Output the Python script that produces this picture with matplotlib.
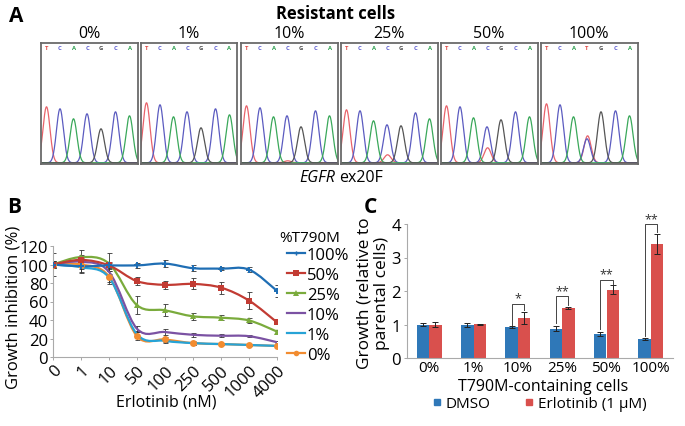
import numpy as np
import matplotlib
matplotlib.use("Agg")
import matplotlib.pyplot as plt
from matplotlib.path import Path
from matplotlib.patches import PathPatch
from matplotlib.lines import Line2D

plt.rcParams['font.family'] = ['Open Sans', 'DejaVu Sans']

W, H = 685, 427

# ---------------- data ----------------
# panel A: sanger traces (peak heights in box pixels)
mix_levels = ['0%', '1%', '10%', '25%', '50%', '100%']
base_calls = ['TCACGCA', 'TCACGCA', 'TCACGCA', 'TCACGCA', 'TCACGCA', 'TCATGCA']
ref_bases = 'TCACGCA'
peak_heights = [
    [56, 54, 44, 49, 34, 51, 47],
    [60, 58, 46, 51, 35, 54, 48],
    [57, 55, 46, 47, 36, 52, 47],
    [53, 52, 42, 38, 37, 50, 44],
    [57, 56, 45, 36, 43, 51, 46],
    [59, 58, 46, 24, 51, 52, 47],
]
t790m_peak = [0, 0, 2, 8, 15, 27]   # mutant T signal at position 4

# panel B: dose response
doses = ['0', '1', '10', '50', '100', '250', '500', '1000', '4000']
b_series = ['100%', '50%', '25%', '10%', '1%', '0%']
inhib_100 = [100, 98, 99, 99, 101, 96, 95.5, 94.5, 71.5]
inhib_50 = [100, 105, 99, 82, 78, 79, 75, 61, 37.5]
inhib_25 = [100, 108, 101, 56, 50.5, 44, 42.5, 39.5, 27.5]
inhib_10 = [100, 103, 92, 30.5, 27, 24, 23, 22.5, 16]
inhib_1 = [100, 97, 86, 24.5, 17.5, 15, 14, 13, 12]
inhib_0 = [100, 100, 87, 22.5, 19, 15, 14, 13, 12]
err_100 = [12, 6, 3, 3, 4, 3, 1.5, 3, 6.5]
err_50 = [3, 5, 4, 4, 4, 6, 6.5, 9, 2]
err_25 = [4, 8, 11, 9.5, 6.5, 3.5, 3, 2.5, 2]
err_10 = [3, 4, 5, 3, 3, 2, 1.5, 1, 1]
err_1 = [4, 6, 7, 4, 2, 1.5, 1, 1, 1]
err_0 = [4, 5, 6, 4, 3, 2, 1.5, 1, 1]

# panel C: growth relative to parental
c_groups = ['0%', '1%', '10%', '25%', '50%', '100%']
dmso = [1.0, 0.98, 0.93, 0.88, 0.72, 0.58]
dmso_err = [0.04, 0.06, 0.03, 0.07, 0.06, 0.03]
erlot = [1.0, 1.01, 1.20, 1.48, 2.04, 3.41]
erlot_err = [0.08, 0.01, 0.18, 0.03, 0.14, 0.30]
sig_idx = [2, 3, 4, 5]
sig_marks = ['*', '**', '**', '**']
sig_top = [1.62, 1.84, 2.34, 4.0]
sig_left = [1.0, 1.04, 0.86, 0.66]
sig_right = [1.42, 1.58, 2.22, 3.76]

fig = plt.figure(figsize=(W / 100, H / 100), dpi=100)


def add_ax(x0, y0, x1, y1):
    return fig.add_axes([x0 / W, 1 - y1 / H, (x1 - x0) / W, (y1 - y0) / H])


def ftext(x, y, s, **kw):
    fig.text(x / W, 1 - y / H, s, **kw)


# ---------------- panel A ----------------
ftext(16, 16, 'A', fontsize=15, fontweight='bold', ha='center', va='center')
ftext(336, 14, 'Resistant cells', fontsize=12, fontweight='bold', ha='center', va='center')
ftext(335, 178, 'EGFR', fontsize=11.5, style='italic', ha='right', va='center')
ftext(339, 178, 'ex20F', fontsize=11.5, ha='left', va='center')

trace_colors = {'T': '#e8636b', 'C': '#5b5bc0', 'A': '#3aa85a', 'G': '#555555'}
call_colors = {'T': '#e04a45', 'C': '#5a5ad0', 'A': '#2ea050', 'G': '#444444'}
peak_pos = [6, 19.5, 33, 46.5, 60.5, 75, 89]
xs = np.linspace(0, 97, 500)
for i, lev in enumerate(mix_levels):
    x0 = 40.5 + 100 * i
    ax = add_ax(x0, 44, x0 + 97, 165)
    ax.set_xlim(0, 97)
    ax.set_ylim(0, 121)
    for b in 'TCAG':
        tr = np.zeros_like(xs) + 1.2
        for k, base in enumerate(ref_bases):
            if base == b:
                tr += peak_heights[i][k] * np.exp(-0.5 * ((xs - peak_pos[k]) / 3.5) ** 2)
        if b == 'T':
            tr += t790m_peak[i] * np.exp(-0.5 * ((xs - peak_pos[3] - 0.6) / 3.5) ** 2)
        ax.plot(xs, tr, color=trace_colors[b], lw=0.9)
    for k, ch in enumerate(base_calls[i]):
        ax.text(peak_pos[k], 116, ch, color=call_colors[ch], fontsize=4.2,
                ha='center', va='center', fontweight='bold')
    ax.set_xticks([])
    ax.set_yticks([])
    for s in ax.spines.values():
        s.set_color('#6a6a6a')
        s.set_linewidth(1.3)
    ftext(x0 + 48.5, 34, lev, fontsize=11.5, ha='center', va='center')

# ---------------- panel B ----------------
ftext(14, 208, 'B', fontsize=15, fontweight='bold', ha='center', va='center')
axb = add_ax(53, 247, 277, 358)
b_colors = ['#1f6eb4', '#c23b33', '#7aab3c', '#7b52a3', '#27a3d6', '#f28c30']
b_markers = ['P', 's', '^', None, None, 'o']
b_msize = [4, 5, 5, 0, 0, 5]
b_vals = [inhib_100, inhib_50, inhib_25, inhib_10, inhib_1, inhib_0]
b_errs = [err_100, err_50, err_25, err_10, err_1, err_0]
xb = np.arange(len(doses))


def smooth_path(x, y):
    pts = np.column_stack([x, y]).astype(float)
    verts = [pts[0]]
    codes = [Path.MOVETO]
    n = len(pts)
    for j in range(n - 1):
        p0 = pts[j - 1] if j > 0 else pts[j]
        p1 = pts[j]
        p2 = pts[j + 1]
        p3 = pts[j + 2] if j + 2 < n else pts[j + 1]
        verts += [p1 + (p2 - p0) / 6, p2 - (p3 - p1) / 6, p2]
        codes += [Path.CURVE4] * 3
    return Path(verts, codes)


for vals, errs in zip(b_vals, b_errs):
    axb.errorbar(xb, vals, yerr=errs, fmt='none', ecolor='#333333', elinewidth=0.6,
                 capsize=1.8, capthick=0.6, zorder=2)
for vals, col, mk, ms in zip(b_vals[::-1], b_colors[::-1], b_markers[::-1], b_msize[::-1]):
    axb.add_patch(PathPatch(smooth_path(xb, vals), fill=False, edgecolor=col, lw=1.6, zorder=3))
    if mk:
        axb.plot(xb, vals, ls='none', marker=mk, ms=ms, color=col, zorder=4, mew=0)
handles = []
for col, mk, ms, lab in zip(b_colors, b_markers, b_msize, b_series):
    handles.append(Line2D([], [], color=col, lw=1.6, marker=mk, ms=ms - 1 if ms else 0, mew=0, label=lab))

axb.set_xlim(0, 8)
axb.set_ylim(0, 120)
axb.set_yticks(np.arange(0, 121, 20))
axb.set_xticks(xb)
axb.set_xticklabels(doses, rotation=45, ha='right', rotation_mode='anchor')
axb.tick_params(labelsize=12, length=2.5, width=0.6, color='#999999', pad=1)
for s in ['top', 'right']:
    axb.spines[s].set_visible(False)
for s in ['left', 'bottom']:
    axb.spines[s].set_color('#aaaaaa')
    axb.spines[s].set_linewidth(0.8)
axb.set_ylabel('Growth inhibition (%)', fontsize=12)
axb.yaxis.set_label_coords(14 / W, 1 - 307 / H, transform=fig.transFigure)
axb.set_xlabel('Erlotinib (nM)', fontsize=11.5)
axb.xaxis.set_label_coords(166 / W, 1 - 403 / H, transform=fig.transFigure)
axb.xaxis.label.set_va('center')
axb.yaxis.label.set_va('center')
ftext(310, 239, '%T790M', fontsize=11, ha='center', va='center')
axb.legend(handles=handles, loc='upper left',
           bbox_to_anchor=(287 / W, 1 - 248 / H), bbox_transform=fig.transFigure,
           frameon=False, fontsize=12, handlelength=1.1,
           handletextpad=0.1, labelspacing=0.24, borderpad=0, borderaxespad=0)

# ---------------- panel C ----------------
ftext(370, 208, 'C', fontsize=15, fontweight='bold', ha='center', va='center')
axc = add_ax(407, 225, 673, 359)
xc = np.arange(len(c_groups))
bw = 0.28
axc.bar(xc - bw / 2, dmso, bw, color='#2f78b8', label='DMSO', zorder=2)
axc.bar(xc + bw / 2, erlot, bw, color='#d9504d', label='Erlotinib (1 \u03bcM)', zorder=2)
axc.errorbar(xc - bw / 2, dmso, yerr=dmso_err, fmt='none', ecolor='#222222',
             elinewidth=0.7, capsize=2.2, capthick=0.7, zorder=3)
axc.errorbar(xc + bw / 2, erlot, yerr=erlot_err, fmt='none', ecolor='#222222',
             elinewidth=0.7, capsize=2.2, capthick=0.7, zorder=3)
for gi, mark, top, lo, hi in zip(sig_idx, sig_marks, sig_top, sig_left, sig_right):
    xl, xr = gi - bw / 2, gi + bw / 2
    axc.plot([xl, xl, xr, xr], [lo, top, top, hi], color='#444444', lw=0.7,
             clip_on=False, zorder=4)
    axc.text(gi, top - 0.03, mark, ha='center', va='bottom', fontsize=9,
             color='#333333', clip_on=False)
axc.set_xlim(-0.5, 5.5)
axc.set_ylim(0, 4)
axc.set_yticks(range(0, 5))
axc.set_xticks(xc)
axc.set_xticklabels(c_groups)
axc.tick_params(labelsize=12, length=2.5, width=0.6, color='#999999', pad=2)
axc.tick_params(axis='x', length=0, pad=1.5, labelsize=11)
for s in ['top', 'right']:
    axc.spines[s].set_visible(False)
for s in ['left', 'bottom']:
    axc.spines[s].set_color('#aaaaaa')
    axc.spines[s].set_linewidth(0.8)
axc.set_ylabel('Growth (relative to\nparental cells)', fontsize=12.5, linespacing=1.1)
axc.yaxis.set_label_coords(373 / W, 1 - 293 / H, transform=fig.transFigure)
axc.yaxis.label.set_va('center')
axc.set_xlabel('T790M-containing cells', fontsize=11.5)
axc.xaxis.set_label_coords(543 / W, 1 - 387 / H, transform=fig.transFigure)
axc.xaxis.label.set_va('center')
c_handles = [Line2D([], [], ls='none', marker='s', ms=4, color='#2f78b8', label='DMSO'),
             Line2D([], [], ls='none', marker='s', ms=4, color='#d9504d', label='Erlotinib (1 \u03bcM)')]
axc.legend(handles=c_handles, loc='center left', ncol=2,
           bbox_to_anchor=(432 / W, 1 - 405 / H), bbox_transform=fig.transFigure,
           frameon=False, fontsize=11, handlelength=0.6, handletextpad=0.3,
           columnspacing=2.2, borderpad=0, borderaxespad=0)

fig.savefig('out.png', dpi=100)
